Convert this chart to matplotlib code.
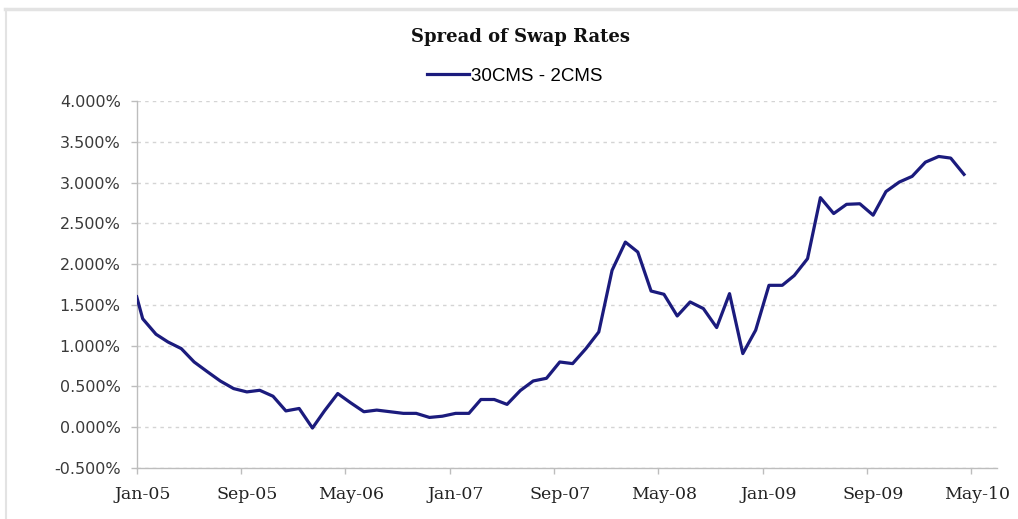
import matplotlib
matplotlib.use("Agg")
import matplotlib.pyplot as plt
import matplotlib.dates as mdates
import matplotlib.transforms as mtransforms
from matplotlib.lines import Line2D
from matplotlib.ticker import FuncFormatter
import pandas as pd

# spread 30y CMS minus 2y CMS, in percent
first_date = ["2005-01-01"]
first_value = [1.60]

# mid-month observations Jan-05 .. Apr-10
monthly_values = [
    1.33, 1.14, 1.045, 0.964, 0.80, 0.68, 0.567, 0.474, 0.433, 0.453, 0.38, 0.20,   # 2005
    0.23, -0.01, 0.20, 0.413, 0.30, 0.19, 0.21, 0.19, 0.17, 0.17, 0.12, 0.135,     # 2006
    0.17, 0.17, 0.34, 0.34, 0.28, 0.45, 0.567, 0.60, 0.80, 0.78, 0.964, 1.168,      # 2007
    1.924, 2.27, 2.148, 1.67, 1.63, 1.364, 1.536, 1.455, 1.222, 1.638, 0.903, 1.19, # 2008
    1.74, 1.74, 1.86, 2.067, 2.815, 2.62, 2.733, 2.74, 2.60, 2.89, 3.006, 3.076,    # 2009
    3.25, 3.32, 3.30, 3.10,                                                          # 2010
]
monthly_dates = pd.date_range("2005-01-01", periods=len(monthly_values), freq="MS") + pd.Timedelta(days=14)

dates = pd.to_datetime(first_date).append(monthly_dates)
values = first_value + monthly_values

tick_dates = pd.date_range("2005-01-01", "2010-05-01", freq="8MS")
y_ticks = [-0.5, 0.0, 0.5, 1.0, 1.5, 2.0, 2.5, 3.0, 3.5, 4.0]

series_name = "30CMS - 2CMS"
title = "Spread of Swap Rates"

fig = plt.figure(figsize=(10.18, 5.19), dpi=100)
ax = fig.add_axes([136.7 / 1018, 1 - 468 / 519, (997 - 136.7) / 1018, (468 - 101) / 519])

ax.plot(dates, values, color="#1b1b7d", lw=2.3, label=series_name, zorder=3)

ax.set_xlim(pd.Timestamp("2005-01-01"), pd.Timestamp("2010-07-01"))
ax.set_ylim(-0.5, 4.0)

ax.set_xticks(tick_dates)
ax.xaxis.set_major_formatter(mdates.DateFormatter("%b-%y"))
ax.set_yticks(y_ticks)
ax.yaxis.set_major_formatter(FuncFormatter(lambda v, p: f"{v:.3f}%"))

# grid
ax.yaxis.grid(True, linestyle=(0, (2.5, 3)), color="#d4d4d4", lw=1.0)
ax.set_axisbelow(True)

for s in ["top", "right"]:
    ax.spines[s].set_visible(False)
for s in ["left", "bottom"]:
    ax.spines[s].set_color("#bdbdbd")
    ax.spines[s].set_linewidth(1.0)

ax.tick_params(axis="y", direction="out", length=4.5, width=1, color="#bdbdbd", pad=7,
               labelsize=11.5, labelcolor="#3a3a3a")
ax.tick_params(axis="x", direction="out", length=4, width=1, color="#bdbdbd", pad=9,
               labelsize=12.5, labelcolor="#222222")
for lab in ax.get_yticklabels():
    lab.set_family("DejaVu Sans")
shift = mtransforms.ScaledTranslation(6 / 100, 0, fig.dpi_scale_trans)
for lab in ax.get_xticklabels():
    lab.set_family("DejaVu Serif")
    lab.set_transform(lab.get_transform() + shift)

fig.text(0.511, 1 - 37 / 519, title, ha="center", va="center",
         family="DejaVu Serif", fontweight="bold", fontsize=13, color="#111111")

ax.legend(loc="center", bbox_to_anchor=(0.506, 1 - 76 / 519), bbox_transform=fig.transFigure,
          frameon=False, handlelength=2.2, handletextpad=0.15,
          prop={"family": "Liberation Sans", "size": 13.5})

# chart frame like the spreadsheet export
fig.add_artist(Line2D([5 / 1018, 1], [1 - 8.5 / 519] * 2, transform=fig.transFigure,
                      color="#e3e3e3", lw=2.5))
fig.add_artist(Line2D([6 / 1018] * 2, [0, 1 - 8.5 / 519], transform=fig.transFigure,
                      color="#e3e3e3", lw=1.5))

fig.savefig("out.png", dpi=100, facecolor="white")
